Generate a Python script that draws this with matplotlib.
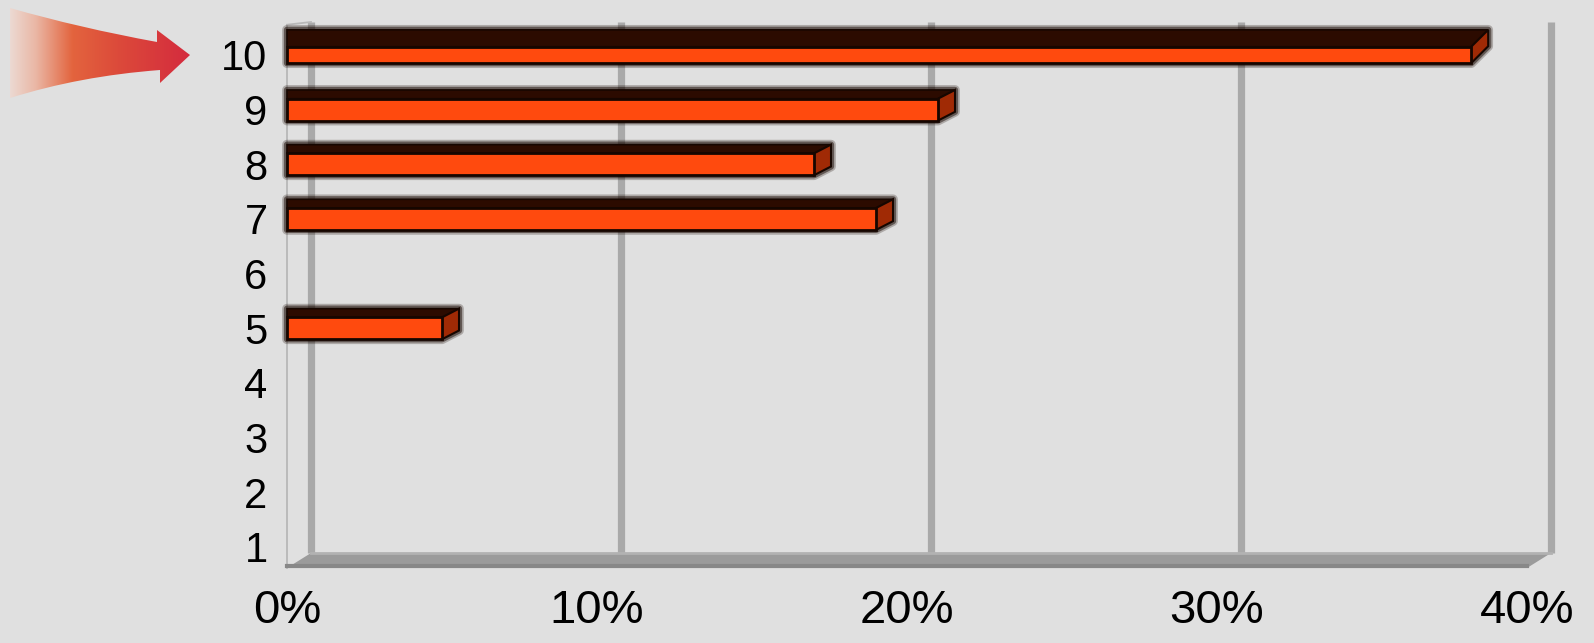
import numpy as np
import matplotlib
matplotlib.use('Agg')
import matplotlib.pyplot as plt
from matplotlib.patches import Polygon, PathPatch
from matplotlib.path import Path
from matplotlib.colors import LinearSegmentedColormap
import matplotlib.transforms as mtransforms

# ---------------- data ----------------
categories = ['1', '2', '3', '4', '5', '6', '7', '8', '9', '10']
values = [0, 0, 0, 0, 5.0, 0, 19.0, 17.0, 21.0, 38.2]   # percent
xticks = [0, 10, 20, 30, 40]
xticklabels = ['0%', '10%', '20%', '30%', '40%']

# ---------------- figure / layout ----------------
W, H = 1594, 643
BG = '#e0e0e0'
plt.rcParams['font.family'] = ['Liberation Sans', 'DejaVu Sans']
fig = plt.figure(figsize=(W / 100, H / 100), dpi=100, facecolor=BG)

x_left, x_right = 287, 1527   # front plane, pixels
y_top, y_bot = 22, 568        # pixels from top
ax = fig.add_axes([x_left / W, (H - y_bot) / H, (x_right - x_left) / W, (y_bot - y_top) / H])
ax.set_facecolor('none')
ypos = np.arange(1, len(categories) + 1)
px_per_cat = 54.67
ax.set_xlim(0, 40)
ax.set_ylim(1 - (y_bot - 547) / px_per_cat, 1 + (547 - y_top) / px_per_cat)
for s in ax.spines.values():
    s.set_visible(False)

ax.set_yticks(ypos, categories)
ax.set_xticks(xticks, xticklabels)
ax.tick_params(axis='y', length=0, pad=14, labelsize=30)
ax.tick_params(axis='x', length=0, pad=15, labelsize=34)

# depth of the 3D box (in data / axes units)
px_per_pct = (x_right - x_left) / 40.0
ax_h_px = (y_bot - y_top)
dxd = 24 / px_per_pct
dya = 15 / ax_h_px
blend = mtransforms.blended_transform_factory(ax.transData, ax.transAxes)

# back wall gridlines
for t in xticks:
    ax.plot([t + dxd, t + dxd], [dya, 1.0], transform=blend, color='#a9a9a9',
            lw=5.2, solid_capstyle='butt', zorder=1, clip_on=False)

# left wall front edge
ax.plot([0, 0], [0, 0.995], transform=blend, color='#b8b8b8', lw=1.3, zorder=1, clip_on=False)
ax.plot([0, dxd], [0.995, 1.0], transform=blend, color='#b8b8b8', lw=1.3, zorder=1, clip_on=False)

# floor
floor = Polygon([(0, 0), (40, 0), (40 + dxd, dya), (dxd, dya)], closed=True,
                transform=blend, facecolor='#9b9b9b', edgecolor='none', zorder=2, clip_on=False)
ax.add_patch(floor)
ax.plot([0, 40], [0.004, 0.004], transform=blend, color='#888888', lw=3, zorder=2, clip_on=False)
ax.plot([dxd, 40 + dxd], [dya, dya], transform=blend, color='#b2b2b2', lw=2, zorder=2, clip_on=False)

# ---------------- bars ----------------
FRONT = '#ff4a0e'
TOP = '#2c0b00'
SIDE = '#a02a05'
EDGE = '#160600'
dxb = 17 / px_per_pct
vmax = max(values)
for y, v in zip(ypos, values):
    if v <= 0:
        continue
    if v == vmax:
        h, dyb = 0.30, 0.31
    else:
        h, dyb = 0.40, 0.16
    y0, y1 = y - h / 2, y + h / 2
    hexagon = [(0, y0), (v, y0), (v + dxb, y0 + dyb), (v + dxb, y1 + dyb), (0, y1 + dyb)]
    # soft dark outline (blurred look)
    for lw, a in [(7, 0.25), (4.5, 0.5)]:
        ax.add_patch(Polygon(hexagon, closed=True, facecolor=EDGE, edgecolor=EDGE, lw=lw,
                             alpha=a, zorder=3, clip_on=False, joinstyle='round'))
    top = Polygon([(0, y1), (v, y1), (v + dxb, y1 + dyb), (0, y1 + dyb)], closed=True,
                  facecolor=TOP, edgecolor=EDGE, lw=1.2, zorder=4, clip_on=False)
    side = Polygon([(v, y0), (v + dxb, y0 + dyb), (v + dxb, y1 + dyb), (v, y1)], closed=True,
                   facecolor=SIDE, edgecolor=EDGE, lw=1.5, zorder=4, clip_on=False)
    ax.add_patch(top)
    ax.add_patch(side)
    ax.barh(y, v, height=h, left=0, color=FRONT, edgecolor=EDGE, lw=2, zorder=5, clip_on=False)

# ---------------- arrow (pixel overlay) ----------------
ax2 = fig.add_axes([0, 0, 1, 1])
ax2.set_xlim(0, W)
ax2.set_ylim(H, 0)
ax2.axis('off')
ax2.set_facecolor('none')
verts = [(10, 8), (80, 28), (157, 42), (157, 30), (190, 55), (160, 83), (160, 70),
         (80, 76), (10, 98), (10, 8)]
codes = [Path.MOVETO, Path.CURVE3, Path.CURVE3, Path.LINETO, Path.LINETO, Path.LINETO,
         Path.LINETO, Path.CURVE3, Path.CURVE3, Path.CLOSEPOLY]
arrow = PathPatch(Path(verts, codes), facecolor='none', edgecolor='none')
ax2.add_patch(arrow)
cmap = LinearSegmentedColormap.from_list('arr', [(0.0, '#ecdcd6'), (0.15, '#eab7a5'),
                                                 (0.35, '#e3643e'), (0.6, '#dc4a3a'),
                                                 (1.0, '#d42a3e')])
grad = np.linspace(0, 1, 256).reshape(1, -1)
im = ax2.imshow(grad, extent=(8, 192, 100, 6), cmap=cmap, aspect='auto', interpolation='bilinear')
im.set_clip_path(arrow)

fig.savefig('out.png', dpi=100, facecolor=BG)
